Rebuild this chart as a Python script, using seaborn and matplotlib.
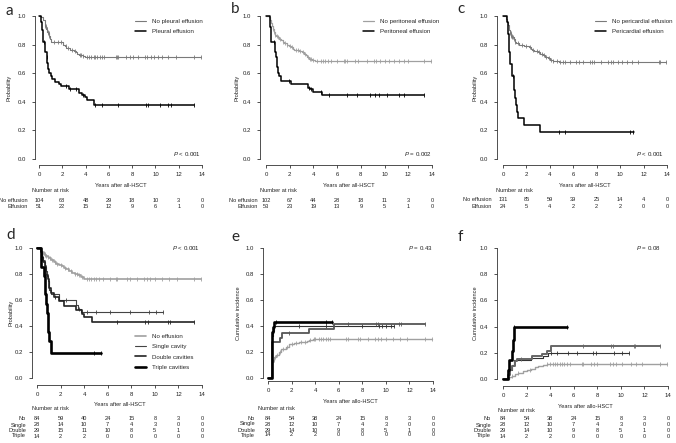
import numpy as np
import matplotlib
matplotlib.use("Agg")
import matplotlib.pyplot as plt
import seaborn as sns
from matplotlib.transforms import blended_transform_factory

sns.set_style("white")
plt.rcParams['font.family'] = ['Liberation Sans', 'DejaVu Sans']
plt.rcParams['mathtext.fontset'] = 'custom'
plt.rcParams['mathtext.it'] = 'Liberation Sans:italic'
plt.rcParams['mathtext.rm'] = 'Liberation Sans'

W, H = 676, 443
FS = 4.1      # axis labels, risk tables
TFS = 4.3     # tick labels
LFS = 4.4     # legends

risk_times = [0, 2, 4, 6, 8, 10, 12, 14]

# ---- panel a : pleural effusion ----
a_no_t = [0, 0.2, 0.37, 0.55, 0.63, 0.72, 0.8, 0.9, 0.98, 1.06, 2.07, 2.2, 2.36, 2.64, 3.0, 3.16, 3.3, 3.45, 3.74, 3.94, 13.9]
a_no_s = [1.0, 0.99, 0.97, 0.93, 0.91, 0.89, 0.88, 0.86, 0.84, 0.815, 0.80, 0.79, 0.775, 0.765, 0.755, 0.745, 0.735, 0.725, 0.72, 0.712, 0.712]
a_no_c = [0.55, 0.6, 0.65, 0.7, 0.75, 0.8, 0.85, 0.9, 1.3, 1.6, 1.9, 2.3, 2.5, 2.8, 3.1, 3.5, 3.6, 3.8, 4.1, 4.3,
          4.5, 4.7, 4.8, 5.0, 5.2, 5.4, 5.6, 6.6, 6.7, 6.8, 7.5, 7.8, 8.1, 8.5, 9.1, 9.3, 9.6, 9.9, 10.2, 10.6,
          11.1, 11.8, 13.3, 13.9]
a_ef_t = [0, 0.2, 0.26, 0.32, 0.5, 0.65, 0.72, 0.8, 0.9, 1.0, 1.1, 1.4, 1.7, 1.9, 2.55, 3.45, 3.7, 3.95, 4.1, 4.7, 13.3]
a_ef_s = [1.0, 0.96, 0.9, 0.82, 0.75, 0.71, 0.67, 0.63, 0.6, 0.58, 0.558, 0.54, 0.525, 0.51, 0.488, 0.465, 0.45, 0.433, 0.41, 0.381, 0.381]
a_ef_c = [0.4, 0.7, 2.3, 2.7, 3.2, 3.8, 4.8, 5.4, 6.8, 9.2, 9.4, 10.4, 11.1, 11.3, 13.3]
a_risk_no = [104, 68, 48, 29, 18, 10, 3, 0]
a_risk_ef = [51, 22, 15, 12, 9, 6, 1, 0]

# ---- panel b : peritoneal effusion ----
b_no_t = [0, 0.22, 0.3, 0.4, 0.5, 0.55, 0.65, 0.75, 0.85, 1.0, 1.1, 1.25, 1.4, 1.55, 1.75, 1.9, 2.1, 2.25, 2.4,
          2.8, 3.05, 3.2, 3.35, 3.45, 3.6, 3.9, 4.15, 13.9]
b_no_s = [1.0, 0.99, 0.97, 0.95, 0.93, 0.91, 0.89, 0.87, 0.86, 0.85, 0.84, 0.83, 0.82, 0.81, 0.80, 0.79, 0.78,
          0.77, 0.76, 0.755, 0.745, 0.735, 0.725, 0.71, 0.70, 0.69, 0.683, 0.683]
b_no_c = [0.6, 0.7, 0.8, 0.9, 1.0, 1.2, 1.4, 1.6, 1.8, 2.0, 2.2, 2.5, 2.7, 2.9, 3.1, 3.3, 3.5, 3.7, 3.8, 4.0,
          4.3, 4.6, 4.8, 5.0, 5.2, 5.5, 6.0, 6.6, 6.7, 6.8, 7.5, 7.8, 8.5, 9.1, 9.3, 9.6, 10.0, 10.4, 10.8,
          11.2, 11.6, 12.0, 13.3, 13.9]
b_ef_t = [0, 0.3, 0.35, 0.4, 0.45, 0.75, 0.8, 0.85, 0.9, 0.95, 1.0, 1.05, 1.1, 1.25, 2.15, 3.55, 3.7, 4.0, 4.75, 13.3]
b_ef_s = [1.0, 0.98, 0.92, 0.87, 0.818, 0.77, 0.748, 0.71, 0.68, 0.643, 0.62, 0.6, 0.58, 0.543, 0.522, 0.5,
          0.49, 0.471, 0.445, 0.445]
b_ef_c = [0.7, 1.9, 3.6, 3.8, 4.6, 5.3, 6.8, 7.7, 8.8, 9.2, 9.5, 10.2, 11.2, 11.6, 13.3]
b_risk_no = [102, 67, 44, 28, 18, 11, 3, 0]
b_risk_ef = [53, 23, 19, 13, 9, 5, 1, 0]

# ---- panel c : pericardial effusion ----
c_no_t = [0, 0.25, 0.3, 0.4, 0.5, 0.55, 0.6, 0.7, 0.8, 0.9, 1.0, 1.15, 1.4, 1.8, 2.2, 2.4, 2.5, 2.65, 3.0, 3.2,
          3.4, 3.6, 3.8, 4.0, 4.3, 4.75, 5.0, 13.9]
c_no_s = [1.0, 0.98, 0.96, 0.94, 0.92, 0.90, 0.88, 0.86, 0.85, 0.84, 0.82, 0.81, 0.80, 0.79, 0.78, 0.77, 0.76,
          0.755, 0.745, 0.735, 0.725, 0.715, 0.705, 0.695, 0.685, 0.68, 0.677, 0.677]
c_no_c = [0.6, 0.65, 0.7, 0.75, 0.8, 0.85, 0.9, 1.0, 1.3, 1.6, 2.0, 2.3, 2.6, 2.9, 3.1, 3.3, 3.5, 3.7, 3.9, 4.1,
          4.3, 4.6, 4.9, 5.1, 5.3, 5.7, 6.2, 6.5, 6.8, 7.4, 7.6, 7.8, 8.4, 9.0, 9.2, 9.4, 9.8, 10.2, 10.6, 11.0,
          11.5, 13.3, 13.4, 13.9]
c_ef_t = [0, 0.3, 0.4, 0.45, 0.5, 0.55, 0.6, 0.75, 0.8, 0.9, 0.95, 1.0, 1.1, 1.2, 1.25, 1.8, 3.2, 11.2]
c_ef_s = [1.0, 0.96, 0.92, 0.875, 0.83, 0.75, 0.667, 0.626, 0.58, 0.52, 0.48, 0.43, 0.38, 0.33, 0.29, 0.24, 0.19, 0.19]
c_ef_c = [0.85, 4.75, 5.3, 10.8, 11.1]
c_risk_no = [131, 85, 59, 39, 25, 14, 4, 0]
c_risk_ef = [24, 5, 4, 2, 2, 2, 0, 0]

# ---- panel d : number of cavities, survival ----
d_no_t = [0, 0.25, 0.3, 0.4, 0.5, 0.65, 0.75, 0.9, 1.0, 1.2, 1.4, 1.6, 1.9, 2.1, 2.3, 2.5, 2.7, 3.0, 3.2, 3.5,
          3.75, 4.0, 13.9]
d_no_s = [1.0, 0.99, 0.98, 0.97, 0.96, 0.95, 0.94, 0.93, 0.92, 0.905, 0.89, 0.88, 0.87, 0.86, 0.85, 0.835, 0.82,
          0.81, 0.80, 0.79, 0.78, 0.765, 0.765]
d_no_c = [0.5, 0.6, 0.7, 0.8, 0.9, 1.1, 1.3, 1.5, 1.7, 2.0, 2.4, 2.6, 2.9, 3.2, 3.4, 3.6, 3.8, 4.2, 4.4, 4.6,
          4.8, 5.0, 5.3, 5.6, 6.2, 6.7, 6.8, 7.6, 7.9, 8.5, 9.1, 9.3, 9.6, 10.0, 10.6, 11.2, 11.9, 13.3, 13.9]
d_si_t = [0, 0.35, 0.45, 0.55, 0.65, 0.75, 0.85, 0.95, 1.0, 1.05, 1.15, 1.9, 3.3, 3.45, 3.7, 10.7]
d_si_s = [1.0, 0.964, 0.929, 0.893, 0.857, 0.821, 0.786, 0.75, 0.714, 0.679, 0.643, 0.60, 0.56, 0.53, 0.51, 0.51]
d_si_c = [2.5, 3.6, 4.2, 5.0, 6.2, 7.9, 9.5, 10.1, 10.7]
d_do_t = [0, 0.35, 0.45, 0.55, 0.65, 0.75, 0.8, 0.9, 1.0, 1.05, 1.15, 1.4, 1.9, 2.3, 3.35, 3.8, 4.0, 4.7, 13.3]
d_do_s = [1.0, 0.966, 0.931, 0.897, 0.862, 0.828, 0.793, 0.759, 0.724, 0.69, 0.655, 0.62, 0.59, 0.556, 0.52,
          0.49, 0.47, 0.43, 0.43]
d_do_c = [1.5, 6.8, 9.2, 9.4, 11.1, 11.3, 13.3]
d_tr_t = [0, 0.3, 0.35, 0.6, 0.65, 0.8, 0.85, 0.9, 0.95, 1.0, 1.2, 5.4]
d_tr_s = [1.0, 0.929, 0.857, 0.786, 0.643, 0.571, 0.5, 0.429, 0.357, 0.286, 0.19, 0.19]
d_tr_c = [4.8, 5.4]
d_risk = [[84, 59, 40, 24, 15, 8, 3, 0],
          [28, 14, 10, 7, 4, 3, 0, 0],
          [29, 15, 11, 10, 8, 5, 1, 0],
          [14, 2, 2, 0, 0, 0, 0, 0]]

# ---- panel e : cumulative incidence ----
e_no_t = [0, 0.3, 0.35, 0.45, 0.55, 0.7, 0.9, 1.1, 1.5, 1.8, 2.2, 2.6, 3.0, 3.3, 3.5, 3.8, 13.9]
e_no_s = [0, 0.02, 0.12, 0.14, 0.16, 0.18, 0.20, 0.222, 0.24, 0.258, 0.267, 0.275, 0.28, 0.285, 0.293, 0.30, 0.30]
e_no_c = [0.5, 0.6, 0.8, 1.0, 1.3, 1.6, 2.0, 2.4, 2.8, 3.1, 3.6, 3.9, 4.0, 4.3, 4.5, 4.7, 4.9, 5.1, 5.3, 6.6,
          6.8, 7.6, 7.8, 8.5, 9.1, 9.3, 9.6, 10.0, 10.6, 11.2, 11.8, 13.3, 13.9]
e_si_t = [0, 0.3, 0.4, 0.5, 10.7]
e_si_s = [0, 0.32, 0.36, 0.40, 0.40]
e_si_c = [0.55, 2.6, 4.9, 8.0, 9.4, 9.7, 10.0, 10.4, 10.7]
e_do_t = [0, 0.3, 1.0, 1.2, 3.5, 5.6, 13.3]
e_do_s = [0, 0.276, 0.31, 0.345, 0.38, 0.415, 0.415]
e_do_c = [1.8, 6.8, 9.2, 9.3, 11.1, 11.3, 13.3]
e_tr_t = [0, 0.3, 0.4, 0.5, 5.4]
e_tr_s = [0, 0.357, 0.393, 0.43, 0.43]
e_tr_c = [0.65, 4.9, 5.4]
e_risk = [[84, 54, 38, 24, 15, 8, 3, 0],
          [28, 12, 10, 7, 4, 3, 0, 0],
          [29, 14, 10, 9, 8, 5, 1, 0],
          [14, 2, 2, 0, 0, 0, 0, 0]]

# ---- panel f : cumulative incidence ----
f_no_t = [0, 0.55, 0.75, 1.0, 1.3, 1.7, 2.0, 2.4, 2.7, 3.0, 3.4, 3.7, 13.9]
f_no_s = [0, 0.012, 0.024, 0.036, 0.048, 0.058, 0.068, 0.08, 0.09, 0.10, 0.108, 0.115, 0.115]
f_no_c = [0.8, 1.3, 2.3, 3.7, 4.0, 4.2, 4.4, 4.6, 4.8, 5.0, 5.2, 5.4, 5.7, 6.7, 6.8, 7.5, 7.7, 8.0, 9.1, 9.3,
          9.6, 10.1, 10.9, 11.3, 11.8, 13.3, 13.9]
f_si_t = [0, 0.45, 0.55, 0.75, 0.95, 2.4, 3.4, 3.8, 10.7]
f_si_s = [0, 0.036, 0.071, 0.107, 0.143, 0.16, 0.178, 0.195, 0.195]
f_si_c = [4.1, 4.6, 5.5, 6.3, 7.6, 7.9, 9.4, 10.1, 10.7]
f_do_t = [0, 0.45, 0.6, 0.75, 1.0, 1.15, 2.5, 3.3, 3.7, 4.05, 13.3]
f_do_s = [0, 0.034, 0.069, 0.103, 0.138, 0.155, 0.172, 0.19, 0.21, 0.25, 0.25]
f_do_c = [1.5, 6.8, 9.2, 9.3, 11.1, 11.2, 13.3]
f_tr_t = [0, 0.4, 0.5, 0.75, 0.85, 0.95, 5.4]
f_tr_s = [0, 0.071, 0.143, 0.214, 0.30, 0.40, 0.40]
f_tr_c = [0.95, 5.4]
f_risk = e_risk

fig = plt.figure(figsize=(W / 100, H / 100), dpi=100)
fig.patch.set_facecolor('white')


def px(x, y):
    return x / W, 1 - y / H


def add_panel(x0, x14, y1, y0, yspine, xspine):
    pxyr = (x14 - x0) / 14
    pxu = y0 - y1
    right = x14 + 0.35 * pxyr
    top = y1 - 0.03 * pxu
    ax = fig.add_axes([yspine / W, 1 - xspine / H, (right - yspine) / W, (xspine - top) / H])
    ax.set_xlim(-(x0 - yspine) / pxyr, 14.35)
    ax.set_ylim(-(xspine - y0) / pxu, 1.03)
    ax.set_facecolor('white')
    sns.despine(ax=ax)
    ax.spines['bottom'].set_bounds(0, 14)
    ax.spines['left'].set_bounds(0, 1)
    for sp in ('bottom', 'left'):
        ax.spines[sp].set_linewidth(0.6)
        ax.spines[sp].set_color('#333333')
    ax.set_xticks(risk_times)
    ax.set_yticks([0, 0.2, 0.4, 0.6, 0.8, 1.0])
    ax.set_yticklabels(['0.0', '0.2', '0.4', '0.6', '0.8', '1.0'])
    ax.tick_params(axis='both', labelsize=TFS, length=2.2, width=0.6, color='#333333', labelcolor='#222222',
                   direction='out', bottom=True, left=True)
    ax.tick_params(axis='x', pad=2.5)
    ax.tick_params(axis='y', pad=4.5)
    return ax


def km(ax, t, s, cens, color, lw, label=None, z=2):
    t = np.asarray(t)
    s = np.asarray(s)
    sns.lineplot(x=t, y=s, drawstyle='steps-post', estimator=None, sort=False, color=color, lw=lw,
                 ax=ax, label=label, legend=False, zorder=z)
    ct = np.asarray(cens)
    cy = s[np.searchsorted(t, ct, side='right') - 1]
    sns.scatterplot(x=ct, y=cy, marker='|', s=10, color=color, linewidth=0.6, ax=ax, legend=False, zorder=z)


def labels(ax, xlab, ylab, x0, x14, y1, y0, ylab_x, xlab_y):
    ax.set_xlabel(xlab, fontsize=FS, color='#222222')
    ax.set_ylabel(ylab, fontsize=FS, color='#222222')
    ax.xaxis.set_label_coords(*px((x0 + x14) / 2, xlab_y), transform=fig.transFigure)
    ax.yaxis.set_label_coords(*px(ylab_x, (y1 + y0) / 2), transform=fig.transFigure)


def risk_table(ax, names, rows, ys, name_right, title_x, title_y):
    tr = blended_transform_factory(ax.transData, fig.transFigure)
    fig.text(*px(title_x, title_y), 'Number at risk', fontsize=FS, ha='left', va='center', color='#222222')
    for name, row, y in zip(names, rows, ys):
        fig.text(*px(name_right, y), name, fontsize=FS, ha='right', va='center', color='#222222')
        for xt, n in zip(risk_times, row):
            ax.text(xt, 1 - y / H, str(n), transform=tr, fontsize=FS, ha='center', va='center', color='#222222')


def legend(ax, x, y, spacing=0.8):
    h, l = ax.get_legend_handles_labels()
    ax.legend(h, l, loc='upper left', bbox_to_anchor=px(x, y), bbox_transform=fig.transFigure, frameon=False,
              fontsize=LFS, handlelength=1.8, handletextpad=1.0, labelspacing=spacing, borderpad=0,
              borderaxespad=0)


def ptext(x, y, s, va):
    fig.text(*px(x, y), s, fontsize=4.4, ha='right', va=va, color='#222222')


def panel_letter(x, y, s):
    fig.text(*px(x, y), s, fontsize=11, ha='left', va='center', family=['Lato', 'DejaVu Sans'])


GRAY = '#7a7a7a'
LIGHT = '#a0a0a0'

# panel a
ax = add_panel(39, 202, 16, 159, 35, 165)
km(ax, a_no_t, a_no_s, a_no_c, GRAY, 0.8, 'No pleural effusion')
km(ax, a_ef_t, a_ef_s, a_ef_c, 'black', 1.1, 'Pleural effusion')
legend(ax, 135, 19)
labels(ax, 'Years after all-HSCT', 'Probability', 39, 202, 16, 159, 11, 183)
risk_table(ax, ['No effusion', 'Effusion'], [a_risk_no, a_risk_ef], [201, 207], 28, 32, 191)
ptext(201, 154, r'$P$ < 0.001', 'center')
panel_letter(6, 11, 'a')

# panel b
ax = add_panel(266, 432, 16, 159, 260, 165)
km(ax, b_no_t, b_no_s, b_no_c, LIGHT, 0.9, 'No peritoneal effusion')
km(ax, b_ef_t, b_ef_s, b_ef_c, 'black', 1.1, 'Peritoneal effusion')
legend(ax, 363, 19)
labels(ax, 'Years after all-HSCT', 'Probability', 266, 432, 16, 159, 240, 183)
risk_table(ax, ['No effusion', 'Effusion'], [b_risk_no, b_risk_ef], [201, 207], 258, 260, 191)
ptext(432, 154, r'$P$ = 0.002', 'center')
panel_letter(231, 9, 'b')

# panel c
ax = add_panel(503, 667, 16, 159, 497, 165)
km(ax, c_no_t, c_no_s, c_no_c, GRAY, 0.8, 'No pericardial effusion')
km(ax, c_ef_t, c_ef_s, c_ef_c, 'black', 1.1, 'Pericardial effusion')
legend(ax, 595, 19)
labels(ax, 'Years after all-HSCT', 'Probability', 503, 667, 16, 159, 477, 183)
risk_table(ax, ['No effusion', 'Effusion'], [c_risk_no, c_risk_ef], [200, 207], 492, 496, 191)
ptext(664, 154, r'$P$ < 0.001', 'center')
panel_letter(457, 9, 'c')

groups = ['No', 'Single', 'Double', 'Triple']

# panel d
ax = add_panel(37, 202, 248, 378, 32, 385)
km(ax, d_no_t, d_no_s, d_no_c, LIGHT, 1.2, 'No effusion')
km(ax, d_si_t, d_si_s, d_si_c, '#444444', 0.8, 'Single cavity')
km(ax, d_do_t, d_do_s, d_do_c, '#222222', 1.2, 'Double cavities')
km(ax, d_tr_t, d_tr_s, d_tr_c, 'black', 1.9, 'Triple cavities')
legend(ax, 135, 334)
labels(ax, 'Years after all-HSCT', 'Probability', 37, 202, 248, 378, 13, 402)
risk_table(ax, groups, d_risk, [419, 425, 431, 436], 26, 32, 409)
ptext(200, 248, r'$P$ < 0.001', 'center')
panel_letter(6, 235, 'd')

# panel e
ax = add_panel(268, 433, 248, 378, 263, 381)
km(ax, e_no_t, e_no_s, e_no_c, LIGHT, 1.0)
km(ax, e_si_t, e_si_s, e_si_c, '#333333', 0.8)
km(ax, e_do_t, e_do_s, e_do_c, '#555555', 1.3)
km(ax, e_tr_t, e_tr_s, e_tr_c, 'black', 1.9)
labels(ax, 'Years after allo-HSCT', 'Cumulative incidence', 268, 433, 248, 378, 241, 399)
risk_table(ax, groups, e_risk, [419, 424, 430, 435], 255, 258, 408)
ptext(433, 248, r'$P$ = 0.43', 'center')
panel_letter(231, 237, 'e')

# panel f
ax = add_panel(503, 668, 248, 379, 497, 386)
km(ax, f_no_t, f_no_s, f_no_c, LIGHT, 1.0)
km(ax, f_si_t, f_si_s, f_si_c, '#333333', 0.8)
km(ax, f_do_t, f_do_s, f_do_c, '#666666', 1.4)
km(ax, f_tr_t, f_tr_s, f_tr_c, 'black', 1.9)
labels(ax, 'Years after allo-HSCT', 'Cumulative incidence', 503, 668, 248, 379, 478, 404)
risk_table(ax, groups, f_risk, [419, 425, 431, 436], 491, 498, 410)
ptext(661, 248, r'$P$ = 0.08', 'center')
panel_letter(458, 237, 'f')

fig.savefig('out.png', dpi=100, facecolor='white')
